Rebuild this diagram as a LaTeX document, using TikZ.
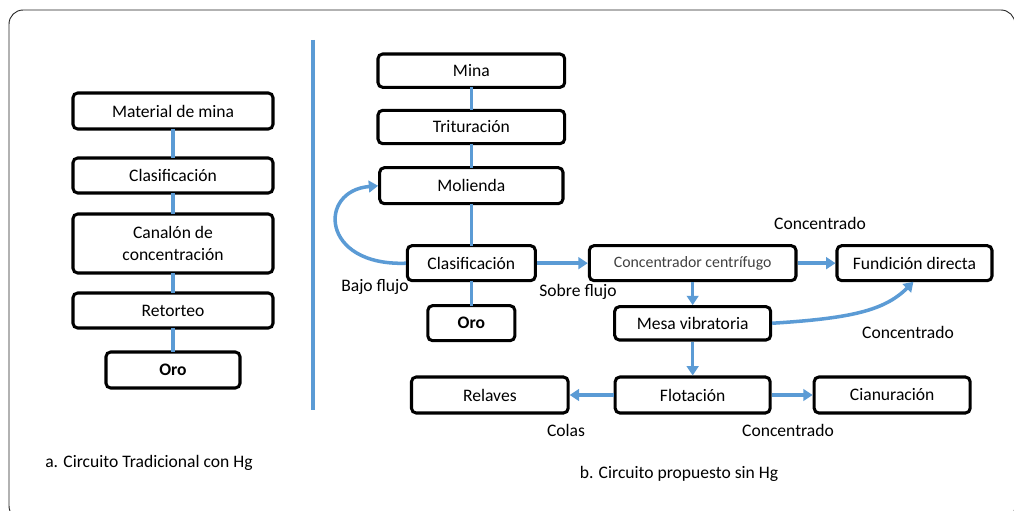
\documentclass[tikz,border=0pt]{standalone}
\usepackage{fontspec}
\setmainfont{Carlito}
\usepackage{tikz}
\usetikzlibrary{positioning,arrows.meta}
\definecolor{flujo}{RGB}{91,155,213}

\begin{document}
\begin{tikzpicture}[node distance=0.7cm, font=\fontsize{15}{19}\selectfont]
  \tikzstyle{roundrect} = [rectangle, rounded corners=4pt, minimum height=1.05cm, draw=black, line width=2.6pt, outer sep=0pt, align=center, inner sep=2pt]
  \tikzstyle{bold} = [font=\fontsize{15}{19}\selectfont\bfseries]
  \tikzstyle{link} = [flujo, line width=3pt]
  \tikzstyle{arrow} = [link, -{Triangle[length=8pt,width=10pt]}, shorten >=1.3pt, shorten <=1.3pt]

  \useasboundingbox (0,0) rectangle (30.42,-15.33);
  \clip (0,0) rectangle (30.42,-15.33);
  \draw [black!85, line width=0.8pt, rounded corners=12pt] (0.27,-0.3) rectangle (30.45,-15.6);
  \draw [link] (9.39,-1.2) -- (9.39,-12.3);

  % a. circuito tradicional
  \node (matmina) [roundrect, minimum width=6cm, minimum height=1.08cm] at (5.19,-3.33) {Material de mina};
  \node (clas1) [roundrect, minimum width=6cm, below=0.87cm of matmina] {Clasificación};
  \node (canalon) [roundrect, minimum width=6cm, minimum height=1.77cm, below=0.63cm of clas1] {Canalón de\\concentración};
  \node (retorteo) [roundrect, minimum width=6cm, below=0.6cm of canalon] {Retorteo};
  \node (oro1) [roundrect, bold, minimum width=4.02cm, minimum height=1.08cm, below=0.72cm of retorteo] {Oro};

  % b. circuito propuesto
  \node (mina) [roundrect, minimum width=5.6cm, minimum height=1cm] at (14.14,-2.12) {Mina};
  \node (trit) [roundrect, minimum width=5.6cm, minimum height=1cm, below=0.69cm of mina] {Trituración};
  \node (mol) [roundrect, minimum width=5.5cm, minimum height=1.08cm, below=0.72cm of trit] {Molienda};
  \node (clas2) [roundrect, minimum width=3.84cm, below=1.26cm of mol] {Clasificación};
  \node (oro2) [roundrect, bold, minimum width=2.61cm, below=0.75cm of clas2] {Oro};
  \node (centri) [roundrect, minimum width=6.2cm, right=1.62cm of clas2, font=\fontsize{13.5}{16}\selectfont, text=black!75] {Concentrador centrífugo};
  \node (fund) [roundrect, minimum width=4.65cm, right=1.23cm of centri] {Fundición directa};
  \node (mesa) [roundrect, minimum width=4.68cm, minimum height=1cm, below=0.78cm of centri] {Mesa vibratoria};
  \node (flot) [roundrect, minimum width=4.65cm, minimum height=1.08cm, below=1.11cm of mesa] {Flotación};
  \node (relaves) [roundrect, minimum width=4.7cm, minimum height=1.08cm, left=1.41cm of flot] {Relaves};
  \node (cian) [roundrect, minimum width=4.68cm, minimum height=1.08cm, right=1.32cm of flot] {Cianuración};

  % etiquetas
  \node (bajo) at (11.25,-8.61) {Bajo flujo};
  \node (sobre) at (17.34,-8.76) {Sobre flujo};
  \node (concfund) at (24.6,-6.69) {Concentrado};
  \node (concmesa) at (27.24,-9.96) {Concentrado};
  \node (colas) at (16.98,-12.9) {Colas};
  \node (conccian) at (23.64,-12.9) {Concentrado};
  \node (capa) at (4.47,-13.89) {a. Circuito Tradicional con Hg};
  \node (capb) at (20.37,-14.22) {b. Circuito propuesto sin Hg};

  \draw [link] (matmina) -- (clas1);
  \draw [link] (clas1) -- (canalon);
  \draw [link] (canalon) -- (retorteo);
  \draw [link] (retorteo) -- (oro1);

  \draw [link] (mina) -- (trit);
  \draw [link] (trit) -- (mol);
  \draw [link] (mol) -- (clas2);
  \draw [link] (clas2) -- (oro2);
  \draw [arrow] (clas2.west) .. controls +(-2.61,-0.09) and +(-1.86,-0.15) .. (mol.west);
  \draw [arrow] (clas2) -- (centri);
  \draw [arrow] (centri) -- (fund);
  \draw [arrow] (centri) -- (mesa);
  \draw [arrow] (mesa.east) .. controls +(2.4,0.15) and +(-0.9,-0.9) .. (fund.south);
  \draw [arrow] (mesa) -- (flot);
  \draw [arrow] (flot) -- (relaves);
  \draw [arrow] (flot) -- (cian);
\end{tikzpicture}
\end{document}
